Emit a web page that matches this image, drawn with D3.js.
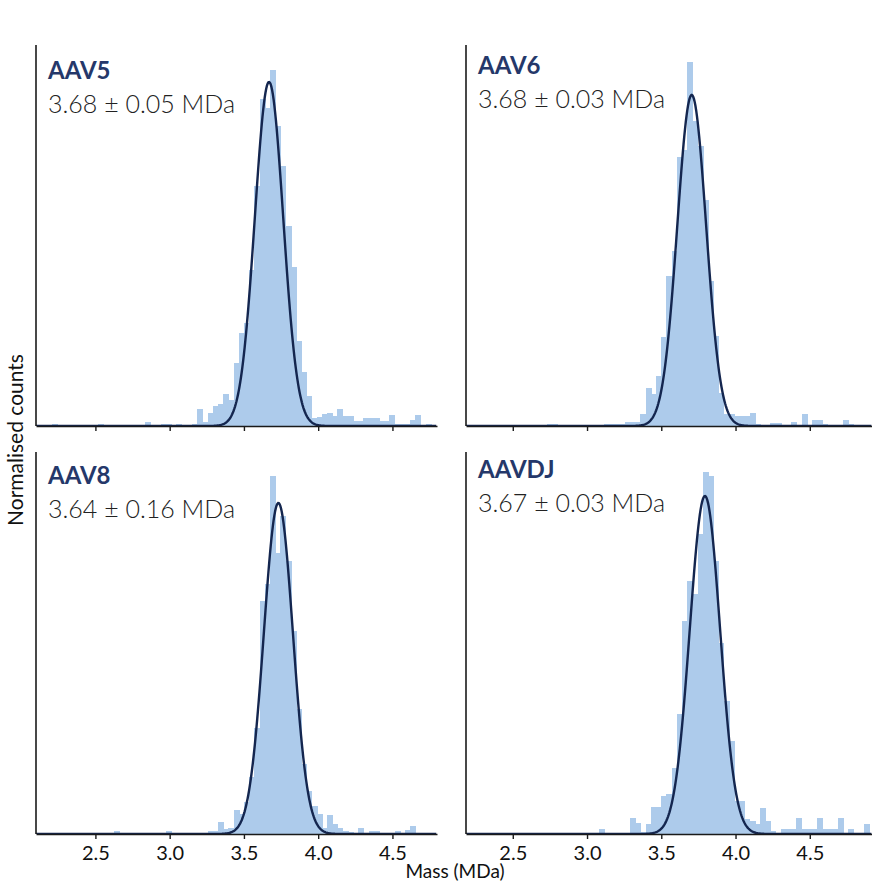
<!DOCTYPE html>
<html>
<head>
<meta charset="utf-8">
<script src="https://cdn.jsdelivr.net/npm/d3@7"></script>
<style>
  body { margin: 0; background: #fff; }
  text { font-family: Lato, "Open Sans", sans-serif; }
</style>
</head>
<body>
<div class="chart"></div>
<script>
var svgWidth = 872;
var svgHeight = 882;

// histogram bins: start at 2.1 MDa, 0.035 MDa wide
var binStart = 2.1;
var binWidth = 0.035;

var panelNames = ["AAV5", "AAV6", "AAV8", "AAVDJ"];
var panelMass = ["3.68 \u00b1 0.05 MDa", "3.68 \u00b1 0.03 MDa", "3.64 \u00b1 0.16 MDa", "3.67 \u00b1 0.03 MDa"];

var aav5Counts = [0,0,0,2,0,0,0,0,0,0,
  0,0,2,0,0,0,0,0,0,0,
  0,4,0,0,2,2,0,2,0,0,
  2,17,4,13,20,22,32,26,63,93,
  103,156,240,327,318,356,300,260,200,159,
  85,54,30,8,9,12,13,10,17,10,
  10,5,5,8,8,8,5,5,11,2,
  2,2,6,11,0,2];

var aav6Counts = [0,0,0,0,0,0,0,0,0,0,
  0,0,0,0,0,0,0,1,2,2,
  1,0,1,0,0,0,1,0,0,2,
  2,2,2,4,4,4,12,38,32,50,
  89,150,175,269,276,364,305,280,226,145,
  90,33,12,12,10,10,10,13,2,0,
  0,3,3,1,0,4,0,12,0,6,
  6,2,0,0,0,6,2];

var aav8Counts = [0,0,0,0,0,0,0,0,0,0,
  0,0,0,0,0,3,0,0,0,0,
  0,0,0,0,0,3,0,0,0,0,
  0,0,0,3,3,12,5,6,24,20,
  32,57,106,233,250,358,281,318,273,203,
  125,70,43,28,20,6,19,10,6,3,
  2,0,6,0,3,3,0,0,0,3,
  0,4,8];

var aavdjCounts = [0,0,0,0,0,0,0,0,0,0,
  0,0,0,0,0,0,0,0,0,0,
  0,0,0,0,0,0,0,0,5,0,
  0,0,0,1,16,11,2,10,27,27,
  38,40,66,120,213,253,240,300,362,358,
  273,191,133,93,33,33,15,13,10,26,
  13,3,0,5,5,5,16,5,5,5,
  16,5,5,5,16,0,5,0,0,10];

// gaussian fit
var fitMu = [3.669, 3.705, 3.732, 3.794];
var fitSigma = [0.0955, 0.097, 0.098, 0.102];
var fitPeak = [344, 331, 331, 338];

var xTicks = [2.5, 3.0, 3.5, 4.0, 4.5];
var countMax = 380;

var allCounts = [aav5Counts, aav6Counts, aav8Counts, aavdjCounts];

// panel layout (left, right, top, bottom) and x-domain per panel
var panels = [
  { x0: 36, x1: 437, y0: 45, y1: 426, domain: [2.1, 4.8], labels: false, ty: 79 },
  { x0: 466, x1: 872, y0: 45, y1: 426, domain: [2.185, 4.919], labels: false, ty: 74 },
  { x0: 36, x1: 437, y0: 452, y1: 834, domain: [2.1, 4.8], labels: true, ty: 484 },
  { x0: 466, x1: 872, y0: 452, y1: 834, domain: [2.185, 4.919], labels: true, ty: 478 }
];

var svg = d3.select(".chart")
  .append("svg")
  .attr("width", svgWidth)
  .attr("height", svgHeight);

panels.forEach(function(p, i) {
  var xScale = d3.scaleLinear().domain(p.domain).range([p.x0, p.x1]);
  var yScale = d3.scaleLinear().domain([0, countMax]).range([p.y1, p.y1 - 380]);

  var bins = allCounts[i].map(function(c, k) {
    return { x0: binStart + k * binWidth, x1: binStart + (k + 1) * binWidth, count: c };
  }).filter(d => d.count > 0);

  var clipId = "clip" + i;
  svg.append("clipPath").attr("id", clipId)
    .append("rect")
    .attr("x", p.x0).attr("y", p.y0 - 20)
    .attr("width", p.x1 - p.x0).attr("height", p.y1 - p.y0 + 20);

  var g = svg.append("g").attr("clip-path", `url(#${clipId})`);

  // bars
  g.selectAll("rect.bar")
    .data(bins)
    .enter()
    .append("rect")
    .attr("class", "bar")
    .attr("x", d => xScale(d.x0))
    .attr("width", d => xScale(d.x1) - xScale(d.x0) + 0.8)
    .attr("y", d => yScale(d.count))
    .attr("height", d => p.y1 - yScale(d.count))
    .attr("shape-rendering", "crispEdges")
    .attr("fill", "#adcbeb");

  // fitted gaussian
  var xs = d3.range(p.domain[0], p.domain[1], 0.005);
  var line = d3.line()
    .x(d => xScale(d))
    .y(d => yScale(fitPeak[i] * Math.exp(-0.5 * Math.pow((d - fitMu[i]) / fitSigma[i], 2))));
  g.append("path")
    .datum(xs)
    .attr("d", line)
    .attr("fill", "none")
    .attr("stroke", "#14264f")
    .attr("stroke-width", 2.4);

  // axes
  var bottomAxis = d3.axisBottom(xScale)
    .tickValues(xTicks)
    .tickSize(5)
    .tickSizeOuter(0)
    .tickFormat(p.labels ? d3.format(".1f") : "");
  var xAxis = svg.append("g")
    .attr("transform", `translate(0, ${p.y1})`)
    .call(bottomAxis);
  xAxis.select(".domain").attr("stroke", "#1a1a1a").attr("stroke-width", 1.6);
  xAxis.selectAll(".tick line").attr("stroke", "#1a1a1a").attr("stroke-width", 1.4);
  xAxis.selectAll(".tick text")
    .attr("font-family", "Lato, sans-serif")
    .attr("font-size", 20)
    .attr("fill", "#111")
    .attr("dy", "0.9em");

  svg.append("line")
    .attr("x1", p.x0).attr("x2", p.x0)
    .attr("y1", p.y0).attr("y2", p.y1)
    .attr("stroke", "#1a1a1a")
    .attr("stroke-width", 1.6);

  // panel titles
  svg.append("text")
    .attr("x", p.x0 + 12)
    .attr("y", p.ty)
    .attr("font-size", 24)
    .attr("font-weight", 700)
    .attr("fill", "#25386a")
    .text(panelNames[i]);

  svg.append("text")
    .attr("x", p.x0 + 12)
    .attr("y", p.ty + 34)
    .attr("font-size", 25)
    .attr("font-weight", 300)
    .attr("fill", "#222")
    .text(panelMass[i]);
});

// axis titles
svg.append("text")
  .attr("transform", "rotate(-90)")
  .attr("x", -440)
  .attr("y", 23)
  .attr("text-anchor", "middle")
  .attr("font-size", 21)
  .attr("fill", "#111")
  .text("Normalised counts");

svg.append("text")
  .attr("x", 455)
  .attr("y", 878)
  .attr("text-anchor", "middle")
  .attr("font-size", 19)
  .attr("fill", "#111")
  .text("Mass (MDa)");
</script>
</body>
</html>
